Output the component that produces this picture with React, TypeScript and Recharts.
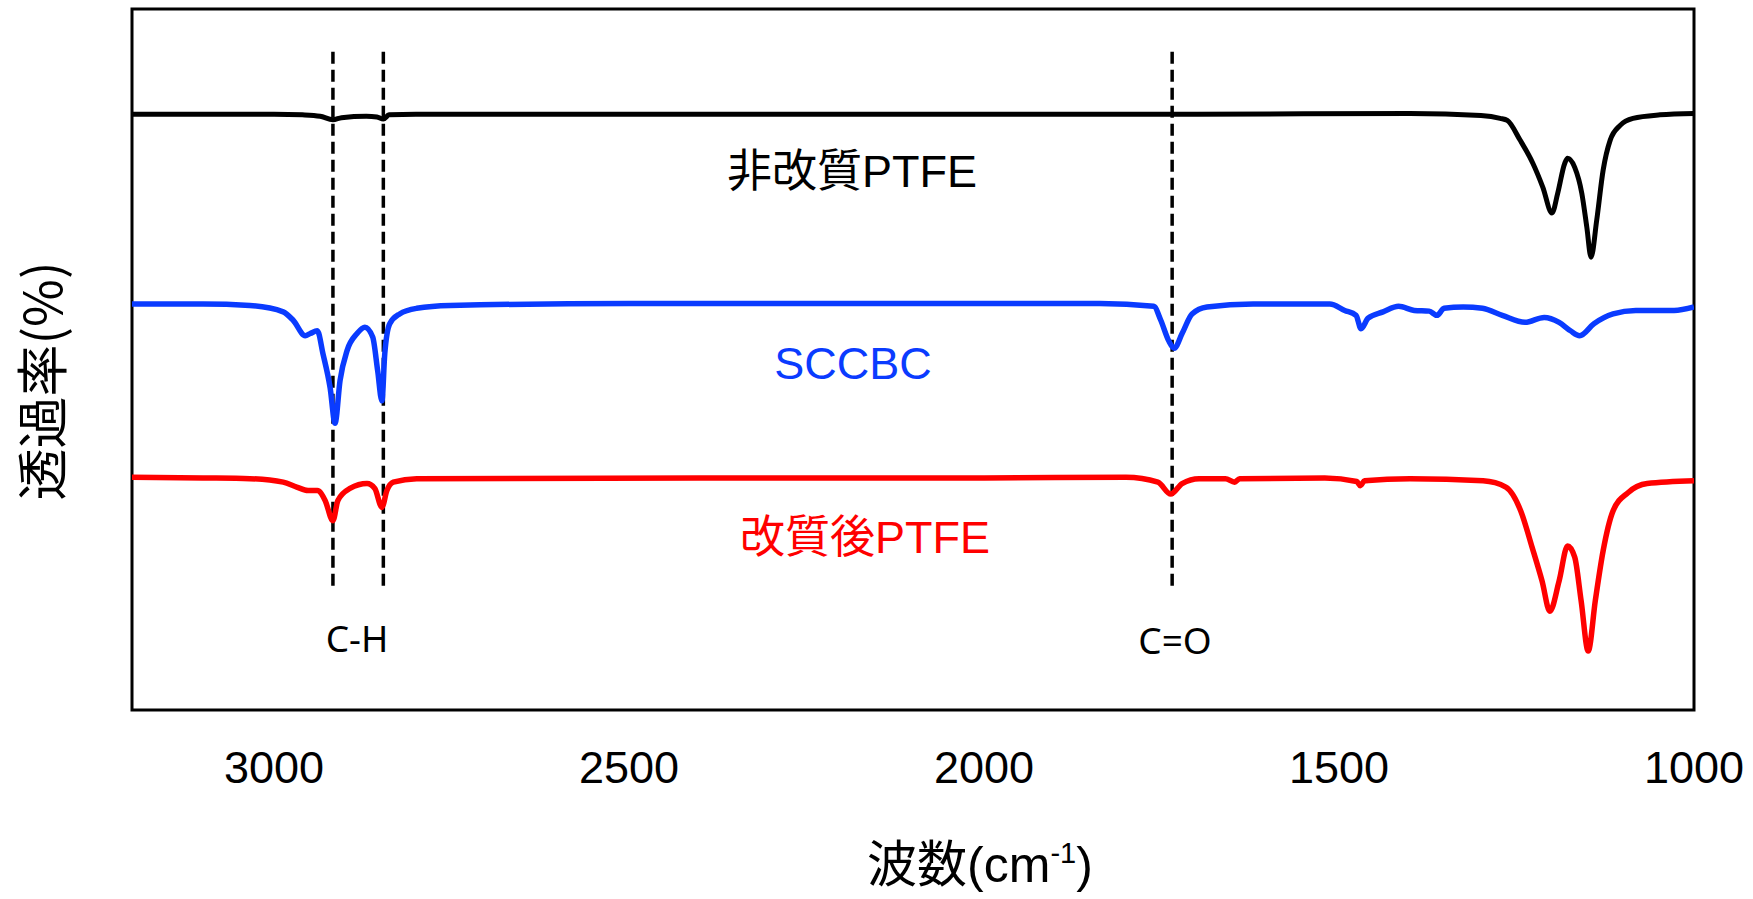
import { LineChart, Line, XAxis, YAxis, ReferenceLine, ReferenceArea } from 'recharts';

// FT-IR spectra, [wavenumber (cm-1), transmittance (offset, a.u.)], high -> low wavenumber
const ptfeRaw: [number, number][] = [
  [3200, 85], [3000, 85], [2960, 84.9], [2935, 84.7], [2917, 84.2], [2905, 84.5],
  [2870, 84.7], [2855, 84.6], [2846, 84.3], [2838, 84.9], [2800, 85], [2400, 85],
  [2000, 85], [1700, 85], [1400, 85.1], [1300, 84.8], [1273, 84.4], [1263, 84.1],
  [1245, 81.3], [1227, 78], [1213, 74.6], [1200, 70.9], [1192, 73.7], [1182, 78],
  [1178, 78.7], [1168, 77.4], [1158, 73.7], [1151, 68.9], [1145, 64.6], [1137, 69.9],
  [1128, 77], [1118, 81.3], [1104, 83.4], [1086, 84.4], [1048, 84.9], [1000, 85.1],
];

const sccbc: [number, number][] = [
  [3200, 57.9], [3100, 57.9], [3034, 57.7], [2987, 56.8], [2973, 55.6], [2956, 53.4],
  [2949, 53.7], [2939, 54.1], [2931, 50.8], [2921, 46], [2914, 40.9], [2907, 47],
  [2897, 51.3], [2883, 53.7], [2872, 54.6], [2861, 53.2], [2854, 48.4], [2848, 44.1],
  [2844, 50.8], [2837, 55.1], [2823, 56.5], [2799, 57.3], [2752, 57.7], [2500, 58],
  [2200, 58], [1837, 58], [1761, 57.6], [1751, 55.6], [1740, 52.7], [1732, 51.6],
  [1721, 53.7], [1707, 56.5], [1686, 57.5], [1621, 57.9], [1513, 57.9], [1492, 57],
  [1476, 56.3], [1469, 54.4], [1459, 55.9], [1438, 56.8], [1416, 57.6], [1394, 57],
  [1373, 56.9], [1362, 56.3], [1352, 57.3], [1325, 57.5], [1298, 57.3], [1270, 56.3],
  [1238, 55.3], [1211, 56], [1190, 55.3], [1174, 54.1], [1161, 53.4], [1141, 55.1],
  [1114, 56.5], [1082, 57], [1028, 57], [1000, 57.5],
];

const ptfeModified: [number, number][] = [
  [3200, 33.2], [3100, 33.1], [3034, 33], [2987, 32.5], [2968, 31.8], [2952, 31.3],
  [2939, 31.3], [2928, 29.9], [2917, 27], [2910, 29.9], [2893, 31.6], [2869, 32.3],
  [2858, 31.6], [2848, 28.9], [2841, 31.3], [2832, 32.5], [2799, 33], [2400, 33.1],
  [2000, 33.1], [1800, 33.2], [1755, 32.5], [1737, 30.8], [1721, 32.3], [1697, 33],
  [1660, 33], [1647, 32.5], [1640, 33], [1520, 33.1], [1475, 32.6], [1470, 32],
  [1464, 32.7], [1400, 33], [1297, 32.7], [1265, 31.8], [1244, 28.4], [1228, 23.2],
  [1214, 18.4], [1203, 14.1], [1190, 18.4], [1178, 23.4], [1168, 21.8], [1159, 15.6],
  [1149, 8.4], [1139, 15.6], [1128, 22.7], [1114, 28.4], [1093, 31], [1066, 32.3],
  [1000, 32.7],
];

const xTicks = [3000, 2500, 2000, 1500, 1000];

// band markers: C-H stretching pair and carbonyl
const bandLines = [2917, 2846, 1735];
const bandTop = 93.9;
const bandBottom = 17.4;

const toRows = (pts: [number, number][]) => pts.map(([wn, t]) => ({ wn, t }));

const W = 1753;
const H = 899;
const font = "'Liberation Sans', Arial, 'Noto Sans CJK JP', sans-serif";

const XTick = (props: any) => (
  <text x={props.x} y={props.y + 73} textAnchor="middle" fontSize={45} fill="#000" fontFamily={font}>
    {props.payload.value}
  </text>
);

export default function App() {
  return (
    <div style={{ position: 'absolute', left: 0, top: 0, width: W, height: H, background: '#fff' }}>
      <LineChart width={W} height={H} margin={{ top: 9, right: 59, bottom: 159, left: 132 }}>
        <XAxis
          type="number"
          dataKey="wn"
          domain={[1000, 3200]}
          reversed
          allowDataOverflow
          ticks={xTicks}
          height={30}
          tickSize={0}
          tickMargin={0}
          axisLine={false}
          tickLine={false}
          tick={<XTick />}
        />
        <YAxis hide type="number" domain={[0, 100]} allowDataOverflow />
        <ReferenceArea x1={3200} x2={1000} y1={0} y2={100} fill="none" fillOpacity={0} stroke="#000" strokeWidth={3} ifOverflow="visible" />
        {bandLines.map((wn) => (
          <ReferenceLine
            key={wn}
            segment={[{ x: wn, y: bandTop }, { x: wn, y: bandBottom }]}
            stroke="#000"
            strokeWidth={3.5}
            strokeDasharray="12 6"
          />
        ))}
        <Line data={toRows(ptfeRaw)} dataKey="t" type="monotone" stroke="#000" strokeWidth={5} dot={false} isAnimationActive={false} />
        <Line data={toRows(sccbc)} dataKey="t" type="monotone" stroke="#0A3BFF" strokeWidth={5.5} dot={false} isAnimationActive={false} />
        <Line data={toRows(ptfeModified)} dataKey="t" type="monotone" stroke="#FF0000" strokeWidth={5.5} dot={false} isAnimationActive={false} />
      </LineChart>
      <svg width={W} height={H} style={{ position: 'absolute', left: 0, top: 0, pointerEvents: 'none' }}>
        <g fontFamily={font} fontSize={45} textAnchor="middle">
          <text x={852} y={187} fill="#000">非改質PTFE</text>
          <text x={853} y={379} fill="#0A3BFF">SCCBC</text>
          <text x={865} y={553} fill="#FF0000">改質後PTFE</text>
        </g>
        <g fontFamily="'Noto Sans', sans-serif" fontSize={37} textAnchor="middle" fill="#000">
          <text x={357} y={652}>C-H</text>
          <text x={1175} y={654}>C=O</text>
        </g>
        <text x={980} y={882} textAnchor="middle" fontSize={50} fontFamily={font} fill="#000">
          波数(cm<tspan dy={-19} fontSize={29}>-1</tspan><tspan dy={19}>)</tspan>
        </text>
        <text
          x={39}
          y={381}
          transform="rotate(-90, 39, 381)"
          textAnchor="middle"
          dominantBaseline="central"
          fontSize={52}
          fontFamily="'Noto Sans CJK JP', sans-serif"
          fill="#000"
        >
          透過率(%)
        </text>
      </svg>
    </div>
  );
}
